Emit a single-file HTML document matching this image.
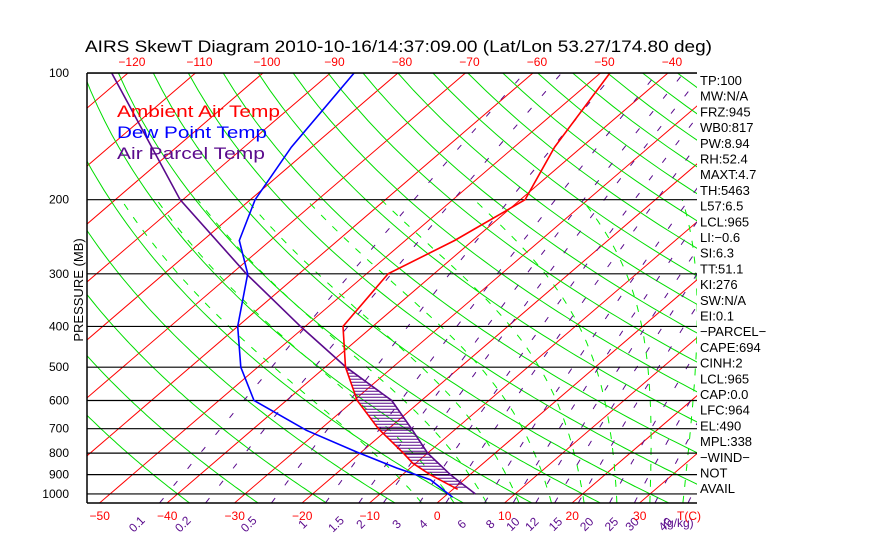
<!DOCTYPE html>
<html><head><meta charset="utf-8"><style>
html,body{margin:0;padding:0;background:#fff;}
svg{display:block;font-family:"Liberation Sans",sans-serif;}
</style></head><body>
<svg id="chart" width="870" height="560" viewBox="0 0 870 560" xmlns="http://www.w3.org/2000/svg">
<rect x="0" y="0" width="870" height="560" fill="#fff"/>
<text x="85" y="52" font-size="17" textLength="627" lengthAdjust="spacingAndGlyphs" fill="#000">AIRS SkewT Diagram 2010-10-16/14:37:09.00 (Lat/Lon 53.27/174.80 deg)</text>
<defs><clipPath id="plotclip"><rect x="87" y="73" width="610" height="430"/></clipPath></defs>
<g id="grid" clip-path="url(#plotclip)"></g>
<g id="series" clip-path="url(#plotclip)"></g>
<g id="axes"></g>
<text transform="translate(83,290) rotate(-90)" text-anchor="middle" font-size="13" fill="#000">PRESSURE (MB)</text>
<g font-size="17">
<text x="117" y="117" fill="#ff0000" textLength="163" lengthAdjust="spacingAndGlyphs">Ambient Air Temp</text>
<text x="117" y="138" fill="#0000ff" textLength="150" lengthAdjust="spacingAndGlyphs">Dew Point Temp</text>
<text x="117" y="159" fill="#5a0a8c" textLength="148" lengthAdjust="spacingAndGlyphs">Air Parcel Temp</text>
</g>
<g id="stats" font-size="13" fill="#000"></g>
</svg>
<script>
const envP=[100,150,200,250,300,400,500,600,700,800,845,900,975];
const envT=[-48.6,-44,-39.3,-42.7,-46.8,-44.4,-37,-29.5,-21.5,-13.6,-10.5,-5.9,0.7];
const dewP=[100,150,200,250,300,400,500,600,706,795,868,925,1018];
const dewT=[-86.5,-83,-79.3,-74.6,-67.6,-60,-52.5,-44.8,-31.9,-20.7,-12,-5,1.3];
const parP=[100,200,300,400,500,600,700,800,900,1000];
const parT=[-122.4,-90.4,-67.8,-50.7,-36.9,-24.4,-16.6,-10,-2.9,4.1];
const pressureTicks=[100,200,300,400,500,600,700,800,900,1000];
const bottomTempTicks=[-50,-40,-30,-20,-10,0,10,20,30];
const topTempTicks=[-120,-110,-100,-90,-80,-70,-60,-50,-40];
const mixRatios=[0.1,0.2,0.5,1,1.5,2,3,4,6,8,10,12,15,20,25,30,40];
const statLabels=["TP:100","MW:N/A","FRZ:945","WB0:817","PW:8.94","RH:52.4","MAXT:4.7","TH:5463","L57:6.5","LCL:965","LI:\u22120.6","SI:6.3","TT:51.1","KI:276","SW:N/A","EI:0.1","\u2212PARCEL\u2212","CAPE:694","CINH:2","LCL:965","CAP:0.0","LFC:964","EL:490","MPL:338","\u2212WIND\u2212","NOT","AVAIL"];

const NS="http://www.w3.org/2000/svg";
const Y0=73,K=182.8,YB=503,X0=437,SX=6.75,SK=1.165;
function yP(p){return Y0+K*Math.log(p/100);}
function xT(t,p){return X0+SX*t+SK*(YB-yP(p));}
function mk(tag,attrs,parent){const e=document.createElementNS(NS,tag);for(const k in attrs)e.setAttribute(k,attrs[k]);parent.appendChild(e);return e;}
function pathD(pts){return pts.map((q,i)=>(i?'L':'M')+q[0].toFixed(1)+','+q[1].toFixed(1)).join('');}
const grid=document.getElementById('grid'),series=document.getElementById('series'),axes=document.getElementById('axes'),stats=document.getElementById('stats');

for(let t=-160;t<=60;t+=10){
  const e=mk('line',{x1:xT(t,1050),y1:yP(1050),x2:xT(t,100),y2:yP(100),stroke:'#ff0000','stroke-width':1},grid);
  
  
}
for(let th=-40;th<=260;th+=10){
  const pts=[];
  for(let p=1050;p>=100;p-=10){const T=(th+273.15)*Math.pow(p/1000,0.286)-273.15;pts.push([xT(T,p),yP(p)]);}
  const e=mk('path',{d:pathD(pts),fill:'none',stroke:'#00dd00','stroke-width':1},grid);
  
  
}
function es(T){return 6.112*Math.exp(17.67*T/(T+243.5));}
function lapse(T,p){const Tk=T+273.15;const r=0.622*es(T)/(p-es(T));const L=2.5e6,Rd=287,cp=1004;
  return (1/p)*(Rd*Tk+L*r)/(cp+L*L*r*0.622/(Rd*Tk*Tk));}
for(let tw=-5;tw<=40;tw+=5){
  const pts=[];
  let Tb=tw;for(let p=1000;p<1050;p+=5){Tb+=5*lapse(Tb,p);}
  let T=Tb;
  for(let p=1050;p>=200;p-=5){pts.push([xT(T,p),yP(p)]);T-=5*lapse(T,p);}
  const e=mk('path',{d:pathD(pts),fill:'none',stroke:'#00ee00','stroke-width':1,'stroke-dasharray':'7 9'},grid);
  
  
}
function tdFromW(w,p){const e=w*p/(622+w);const l=Math.log(e/6.112);return 243.5*l/(17.67-l);}
mixRatios.forEach(w=>{
  const pts=[];for(let p=1050;p>=100;p-=10)pts.push([xT(tdFromW(w,p),p),yP(p)]);
  const e=mk('path',{d:pathD(pts),fill:'none',stroke:'#5a0a8c','stroke-width':1,'stroke-dasharray':'6 16'},grid);
  
  
  const x=xT(tdFromW(w,1050),1050)-20;
  const t=mk('text',{x:x,y:527,transform:`rotate(-45 ${x} 527)`,'font-size':12,fill:'#5a0a8c','text-anchor':'middle'},axes);
  t.textContent=String(w);
  
  
});
{const t=mk('text',{x:663,y:527,'font-size':12,fill:'#5a0a8c'},axes);t.textContent='(g/kg)';
 
 }
pressureTicks.forEach(p=>{
  const e=mk('line',{x1:87,y1:yP(p),x2:697,y2:yP(p),stroke:'#000','stroke-width':1.2},grid);
  
  
  const t=mk('text',{x:69,y:yP(p)+4,'font-size':12,'text-anchor':'end',fill:'#000'},axes);
  t.textContent=String(p);
  
  
});
{const e=mk('line',{x1:87,y1:73,x2:87,y2:503,stroke:'#000','stroke-width':1.5},axes);
 const b=mk('line',{x1:87,y1:503,x2:697,y2:503,stroke:'#000','stroke-width':1.5},axes);
 const tp=mk('line',{x1:87,y1:73,x2:697,y2:73,stroke:'#000','stroke-width':1.5},axes);}
bottomTempTicks.forEach(t=>{
  const e=mk('text',{x:xT(t,1050),y:520,'font-size':12,'text-anchor':'middle',fill:'#ff0000'},axes);
  e.textContent=(t<0?'\u2212':'')+Math.abs(t);
  
  
});
{const e=mk('text',{x:677,y:520,'font-size':12,fill:'#ff0000'},axes);e.textContent='T(C)';}
topTempTicks.forEach(t=>{
  const e=mk('text',{x:xT(t,100)+4,y:66,'font-size':12,'text-anchor':'middle',fill:'#ff0000'},axes);
  e.textContent='\u2212'+Math.abs(t);
  
  
});
function interp(P,T,p){const lp=Math.log(p);for(let i=0;i<P.length-1;i++){const a=Math.log(P[i]),b=Math.log(P[i+1]);if(lp>=a&&lp<=b)return T[i]+(T[i+1]-T[i])*(lp-a)/(b-a);}return null;}
for(let y=yP(500)+3;y<yP(975);y+=3){
  const p=100*Math.exp((y-Y0)/K);const te=interp(envP,envT,p),tp=interp(parP,parT,p);
  if(te!==null&&tp!==null&&tp>te){
    const e=mk('line',{x1:xT(te,p),y1:y,x2:xT(tp,p),y2:y,stroke:'#5a0a8c','stroke-width':1},series);
    
    
  }
}
function drawSeries(P,T,color,w,name){
  const e=mk('path',{d:pathD(P.map((p,i)=>[xT(T[i],p),yP(p)])),fill:'none',stroke:color,'stroke-width':w},series);
  
  
}
drawSeries(parP,parT,'#5a0a8c',1.6,'parcel-temp-line');
drawSeries(dewP,dewT,'#0000ff',1.6,'dewpoint-line');
drawSeries(envP,envT,'#ff0000',1.6,'ambient-temp-line');
statLabels.forEach((s,i)=>{
  const e=mk('text',{x:700,y:85+i*15.7},stats);
  e.textContent=s;
  
  
});
</script>
</body></html>
